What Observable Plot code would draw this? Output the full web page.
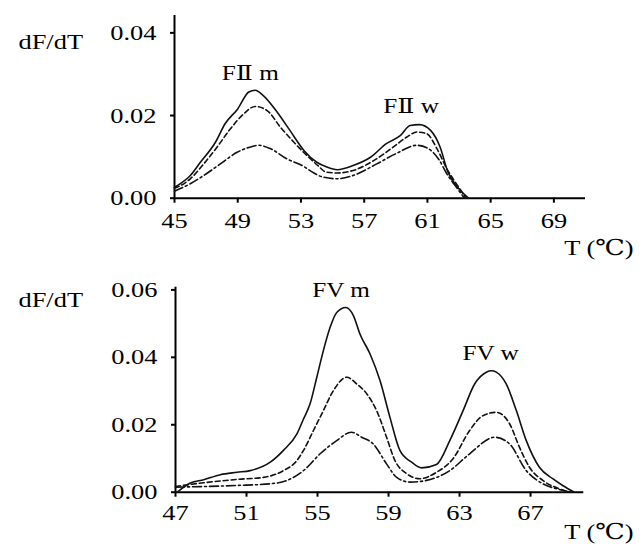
<!DOCTYPE html>
<html>
<head>
<meta charset="utf-8">
<script src="https://cdn.jsdelivr.net/npm/d3@7"></script>
<script src="https://cdn.jsdelivr.net/npm/@observablehq/plot@0.6"></script>
<style>
  body { margin: 0; background: #fff; }
  #chart { width: 643px; }
  #chart svg { display: block; }
  #chart svg text { font-family: "Liberation Serif", "Times New Roman", "DejaVu Serif", serif !important; }
  #chart svg .big { font-size: 22px !important; }
  #chart svg .ann { font-size: 21px !important; }
</style>
</head>
<body>
<div id="chart"></div>
<script>
// ---------- Panel 1: FII (prothrombin) ----------
const fiiXTicks = [45, 49, 53, 57, 61, 65, 69];
const fiiYTicks = [0, 0.02, 0.04];

const fiiTempSolid = [45.0,45.2,46.0,46.6,47.6,48.2,49.0,49.7,50.1,50.6,51.5,52.3,53.2,54.0,54.6,55.3,56.3,57.4,58.4,59.3,59.9,60.5,61.2,61.8,62.3,62.9,63.6];
const fiiSolid     = [0.0026,0.0031,0.0055,0.0085,0.0136,0.0180,0.0216,0.0257,0.0261,0.0249,0.0208,0.0164,0.0115,0.0087,0.0076,0.0069,0.0079,0.0099,0.0132,0.0152,0.0176,0.0178,0.0164,0.0124,0.0063,0.0027,0.0];

const fiiTempDashed = [45.0,45.2,46.0,46.85,47.7,48.54,49.38,50.1,50.86,51.7,52.54,53.38,54.1,54.6,55.3,56.3,57.6,58.85,59.7,60.33,60.96,61.6,62.23,62.9,63.45];
const fiiDashed     = [0.0024,0.0027,0.0047,0.0083,0.0124,0.0168,0.0204,0.0222,0.0212,0.0172,0.0136,0.0103,0.0078,0.0063,0.0061,0.0067,0.0091,0.0124,0.0148,0.0160,0.0156,0.0120,0.0071,0.0031,0.0];

const fiiTempDashDot = [45.0,46.0,46.85,47.9,48.96,49.8,50.33,51.06,52.12,53.17,53.6,54.4,55.3,56.3,57.8,59.07,60.33,60.96,61.7,62.23,62.9,63.35];
const fiiDashDot     = [0.0017,0.0035,0.0055,0.0083,0.0111,0.0124,0.0128,0.0120,0.0095,0.0077,0.0066,0.0051,0.0047,0.0055,0.0083,0.0109,0.0128,0.0122,0.0095,0.0059,0.0023,0.0];

const fiiLabels = ["FⅡ m", "FⅡ w"];
const fiiLabelT = [49.8, 59.97];
const fiiLabelV = [0.0302, 0.0222];

// ---------- Panel 2: FV (factor V Leiden) ----------
const fvXTicks = [47, 51, 55, 59, 63, 67];
const fvYTicks = [0, 0.02, 0.04, 0.06];

const fvTempSolid = [47.1,47.84,48.59,49.53,50.47,51.21,52.34,53.08,53.84,54.21,54.58,54.96,55.33,55.71,56.08,56.6,57.02,57.39,57.96,58.52,59.08,59.64,60.3,60.86,61.7,62.45,63.2,63.85,64.51,64.8,65.07,65.63,66.2,66.76,67.5,68.25,68.81,69.47];
const fvSolid     = [0.0,0.0027,0.0037,0.0052,0.0059,0.0064,0.0089,0.0124,0.0173,0.0217,0.0262,0.0341,0.0420,0.0489,0.0533,0.0548,0.0524,0.0469,0.0410,0.0331,0.0222,0.0124,0.0089,0.0072,0.0082,0.0153,0.0242,0.0321,0.0356,0.0360,0.0356,0.0321,0.0242,0.0153,0.0074,0.0040,0.0020,0.0];

const fvTempDashed = [47.0,48.59,50.47,51.96,53.08,53.84,54.21,54.77,55.33,55.89,56.65,57.21,57.8,58.33,58.89,59.36,60.02,60.76,61.7,62.63,63.57,64.32,65.07,65.82,66.38,66.94,67.69,68.63,69.29];
const fvDashed     = [0.0017,0.0028,0.0038,0.0044,0.0064,0.0094,0.0124,0.0183,0.0242,0.0301,0.0341,0.0321,0.0290,0.0242,0.0163,0.0094,0.0055,0.0040,0.0059,0.0099,0.0183,0.0227,0.0237,0.0203,0.0133,0.0074,0.0035,0.0010,0.0];

const fvTempDashDot = [47.0,50.47,52.34,53.28,54.21,55.15,56.08,56.9,57.49,58.14,58.89,59.46,60.2,61.14,62.45,63.57,64.98,65.82,66.76,67.69,68.63,69.19];
const fvDashDot     = [0.0015,0.0020,0.0025,0.0035,0.0064,0.0114,0.0153,0.0178,0.0163,0.0143,0.0084,0.0044,0.0030,0.0035,0.0064,0.0114,0.0163,0.0143,0.0064,0.0025,0.0008,0.0];

const fvLabels = ["FV m", "FV w"];
const fvLabelT = [56.33, 64.75];
const fvLabelV = [0.0600, 0.0411];

const yLabel = "dF/dT";
const xLabel = "T (℃)";

// ---------- drawing ----------
const dashes = [null, "5,3", "9,3,2,3"];
const TEXT_STRETCH = 1.2;

function curves(temps, values) {
  return temps.map((t, i) => Plot.line(t, {
    x: t, y: values[i], curve: "monotone-x",
    stroke: "#111", strokeWidth: 1.6,
    strokeDasharray: dashes[i] || undefined
  }));
}

function panel(o) {
  return Plot.plot({
    width: 643, height: o.height,
    marginLeft: o.ml, marginRight: o.mr, marginTop: o.mt, marginBottom: o.mb,
    x: {domain: o.xDomain},
    y: {domain: o.yDomain},
    style: {background: "#fff", color: "#000", overflow: "visible"},
    marks: [
      Plot.axisY({ticks: o.yTicks, tickFormat: d3.format(".2f"), tickSize: 4, tickPadding: 14, strokeWidth: 2, label: null, className: "big", fontSize: 22}),
      Plot.axisX({ticks: o.xTicks, tickFormat: d => String(d), tickSize: 5, tickPadding: o.xPad, strokeWidth: 2, label: null, className: "big", fontSize: 22}),
      Plot.ruleX([o.xDomain[0]], {y1: o.yDomain[0], y2: o.yDomain[1], strokeWidth: 2, stroke: "#000"}),
      Plot.ruleY([0], {x1: o.xDomain[0], x2: o.xDomain[1], strokeWidth: 2, stroke: "#000"}),
      ...curves(o.temps, o.values),
      Plot.text(o.labels, {x: o.labelT, y: o.labelV, text: d => d, fontSize: 21, fill: "#000", className: "ann"}),
      Plot.text([yLabel], {frameAnchor: "top-left", dx: o.yLabDx, dy: o.yLabDy, textAnchor: "start", fill: "#000", fontSize: 22, className: "big"}),
      Plot.text([xLabel], {frameAnchor: "bottom-right", dx: o.xLabDx, dy: o.xLabDy, textAnchor: "end", fill: "#000", fontSize: 22, className: "big"})
    ]
  });
}

function stretchText(svg) {
  svg.querySelectorAll("text").forEach(t => {
    const tr = t.getAttribute("transform") || "";
    const x = parseFloat(t.getAttribute("x")) || 0;
    const y = parseFloat(t.getAttribute("y")) || 0;
    t.setAttribute("transform", `${tr} translate(${x},${y}) scale(${TEXT_STRETCH},1) translate(${-x},${-y})`);
  });
  return svg;
}

const topPanel = panel({
  height: 270, ml: 174, mr: 58, mt: 15, mb: 72.3,
  xDomain: [45, 71], yDomain: [0, 0.0442],
  xTicks: fiiXTicks, yTicks: fiiYTicks, xPad: 9.5,
  temps: [fiiTempSolid, fiiTempDashed, fiiTempDashDot],
  values: [fiiSolid, fiiDashed, fiiDashDot],
  labels: fiiLabels, labelT: fiiLabelT, labelV: fiiLabelV,
  yLabDx: -156, yLabDy: 17.5, xLabDx: 48, xLabDy: 57
});

const bottomPanel = panel({
  height: 277, ml: 175, mr: 59.7, mt: 16.7, mb: 55.3,
  xDomain: [47, 70], yDomain: [0, 0.0608],
  xTicks: fvXTicks, yTicks: fvYTicks, xPad: 7,
  temps: [fvTempSolid, fvTempDashed, fvTempDashDot],
  values: [fvSolid, fvDashed, fvDashDot],
  labels: fvLabels, labelT: fvLabelT, labelV: fvLabelV,
  yLabDx: -157, yLabDy: 4.5, xLabDx: 49.7, xLabDy: 47
});

const chart = document.getElementById("chart");
chart.appendChild(stretchText(topPanel));
chart.appendChild(stretchText(bottomPanel));
</script>
</body>
</html>
